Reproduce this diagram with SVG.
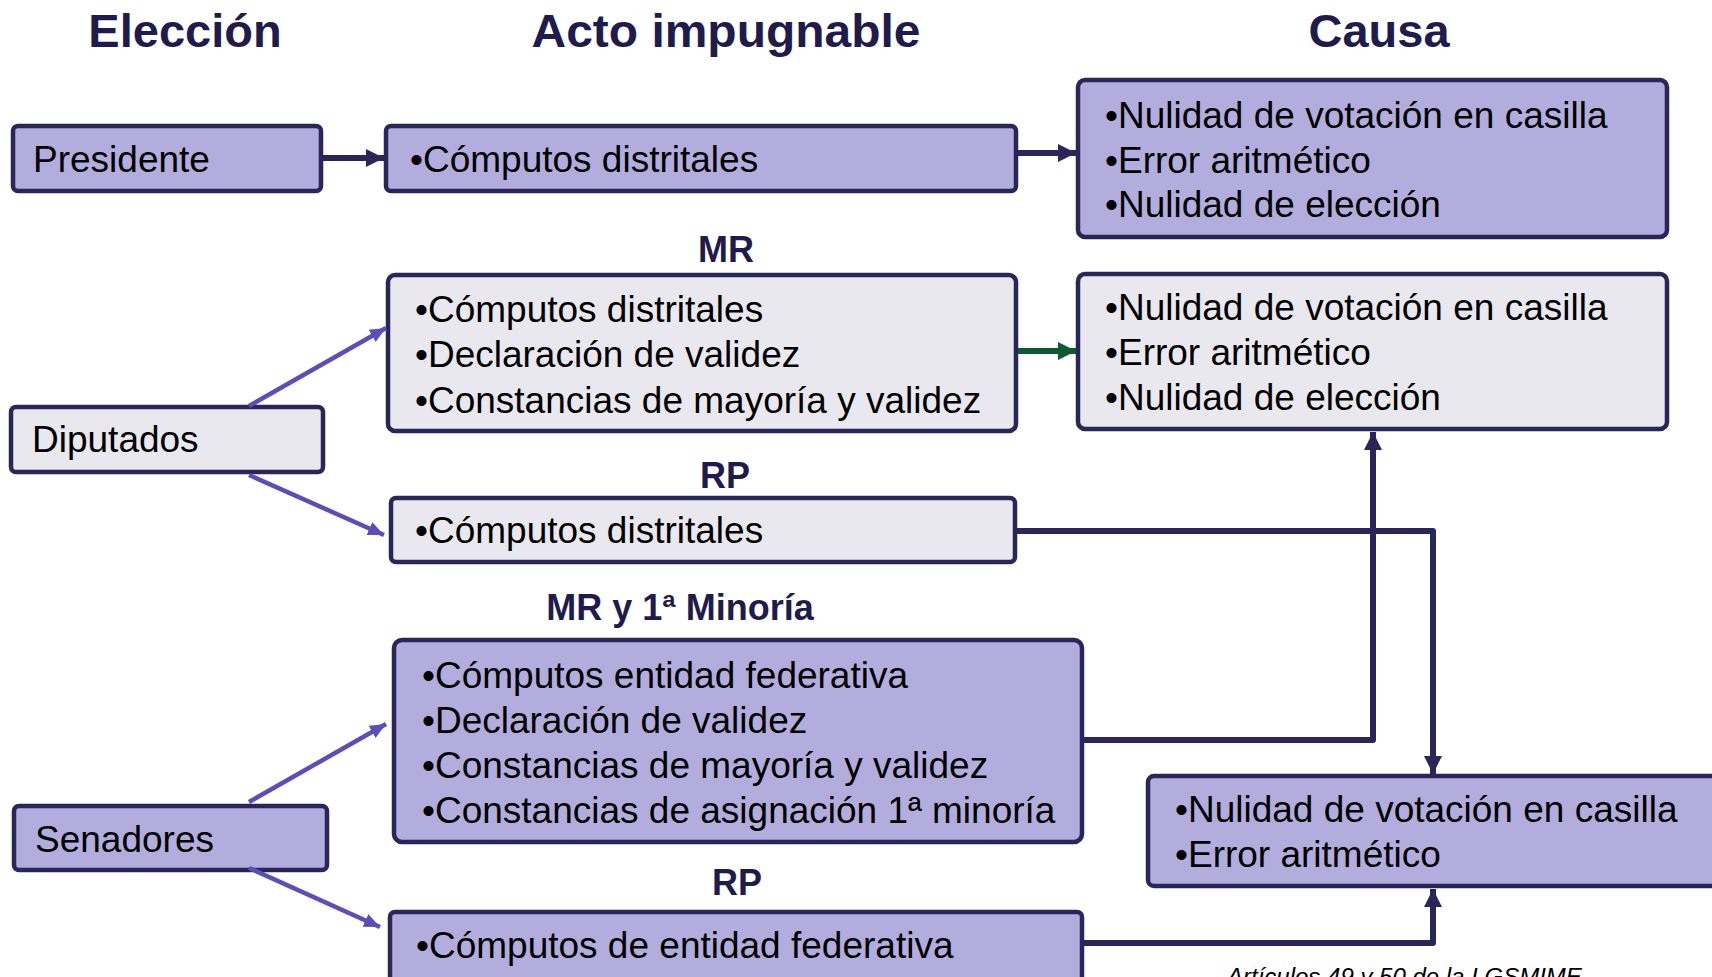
<svg xmlns="http://www.w3.org/2000/svg" width="1712" height="977" viewBox="0 0 1712 977">
<defs>
<style>
.title{font-family:"Liberation Sans",Arial,sans-serif;font-weight:bold;font-size:47px;fill:#1f1c4d;text-anchor:middle}
.lbl{font-family:"Liberation Sans",Arial,sans-serif;font-weight:bold;font-size:36px;fill:#1f1c4d;text-anchor:middle}
.t{font-family:"Liberation Sans",Arial,sans-serif;font-size:37px;fill:#000}
.foot{font-family:"Liberation Sans",Arial,sans-serif;font-style:italic;font-size:24px;fill:#000}
.lav{fill:#b2addc;stroke:#2b2659;stroke-width:4.5}
.gry{fill:#e9e8ee;stroke:#2b2659;stroke-width:4.5}
.nv{fill:none;stroke:#2b2659;stroke-width:6;stroke-linejoin:round}
.pu{fill:none;stroke:#5a4fb9;stroke-width:4.5}
.gr{fill:none;stroke:#0c5a32;stroke-width:6}
</style>
<marker id="an" markerUnits="userSpaceOnUse" markerWidth="18" markerHeight="18" refX="18" refY="9" orient="auto"><path d="M0,0 L18,9 L0,18 z" fill="#2b2659"/></marker>
<marker id="ag" markerUnits="userSpaceOnUse" markerWidth="18" markerHeight="18" refX="18" refY="9" orient="auto"><path d="M0,0 L18,9 L0,18 z" fill="#0c5a32"/></marker>
<marker id="ap" markerUnits="userSpaceOnUse" markerWidth="16" markerHeight="16" refX="16" refY="8" orient="auto"><path d="M0,1 L16,8 L0,15 z" fill="#5a4fb9"/></marker>
</defs>
<rect width="1712" height="977" fill="#fff"/>
<g id="titles">
<text class="title" x="185" y="47">Elección</text>
<text class="title" x="726" y="47" textLength="389" lengthAdjust="spacingAndGlyphs">Acto impugnable</text>
<text class="title" x="1379" y="47">Causa</text>
<text class="lbl" x="726" y="262">MR</text>
<text class="lbl" x="725" y="488">RP</text>
<text class="lbl" x="680" y="620">MR y 1ª Minoría</text>
<text class="lbl" x="737" y="895">RP</text>
</g>
<g id="presidente"><rect class="lav" x="13" y="126" width="308" height="65" rx="5"/><text class="t" x="33" y="172">Presidente</text></g>
<g id="acto-presidente"><rect class="lav" x="386" y="126" width="630" height="65" rx="5"/><text class="t" x="410" y="172">•Cómputos distritales</text></g>
<g id="causa-1"><rect class="lav" x="1078" y="80" width="589" height="157" rx="7"/>
<text class="t" x="1105" y="128">•Nulidad de votación en casilla</text>
<text class="t" x="1105" y="173">•Error aritmético</text>
<text class="t" x="1105" y="217">•Nulidad de elección</text></g>
<g id="causa-2"><rect class="gry" x="1078" y="274" width="589" height="155" rx="7"/>
<text class="t" x="1105" y="320">•Nulidad de votación en casilla</text>
<text class="t" x="1105" y="365">•Error aritmético</text>
<text class="t" x="1105" y="410">•Nulidad de elección</text></g>
<g id="acto-dip-mr"><rect class="gry" x="388" y="275" width="628" height="156" rx="7"/>
<text class="t" x="415" y="322">•Cómputos distritales</text>
<text class="t" x="415" y="367">•Declaración de validez</text>
<text class="t" x="415" y="413">•Constancias de mayoría y validez</text></g>
<g id="diputados"><rect class="gry" x="11" y="407" width="312" height="65" rx="5"/><text class="t" x="32" y="452">Diputados</text></g>
<g id="acto-dip-rp"><rect class="gry" x="391" y="498" width="624" height="64" rx="5"/><text class="t" x="415" y="543">•Cómputos distritales</text></g>
<g id="acto-sen-mr"><rect class="lav" x="394" y="640" width="688" height="202" rx="8"/>
<text class="t" x="422" y="688">•Cómputos entidad federativa</text>
<text class="t" x="422" y="733">•Declaración de validez</text>
<text class="t" x="422" y="778">•Constancias de mayoría y validez</text>
<text class="t" x="422" y="823">•Constancias de asignación 1ª minoría</text></g>
<g id="senadores"><rect class="lav" x="14" y="806" width="313" height="64" rx="5"/><text class="t" x="35" y="852">Senadores</text></g>
<g id="acto-sen-rp"><rect class="lav" x="390" y="912" width="692" height="80" rx="5"/><text class="t" x="416" y="958">•Cómputos de entidad federativa</text></g>
<g id="causa-3"><rect class="lav" x="1148" y="776" width="580" height="110" rx="6"/>
<text class="t" x="1175" y="822">•Nulidad de votación en casilla</text>
<text class="t" x="1175" y="867">•Error aritmético</text></g>
<g id="connectors">
<line class="nv" x1="323" y1="158" x2="384" y2="158" marker-end="url(#an)"/>
<line class="nv" x1="1018" y1="153" x2="1076" y2="153" marker-end="url(#an)"/>
<line class="gr" x1="1018" y1="351" x2="1076" y2="351" marker-end="url(#ag)"/>
<polyline class="nv" points="1084,740 1373,740 1373,432" marker-end="url(#an)"/>
<polyline class="nv" points="1017,531 1433,531 1433,774" marker-end="url(#an)"/>
<polyline class="nv" points="1084,943 1433,943 1433,889" marker-end="url(#an)"/>
<line class="pu" x1="249" y1="406" x2="386" y2="328" marker-end="url(#ap)"/>
<line class="pu" x1="249" y1="475" x2="384" y2="535" marker-end="url(#ap)"/>
<line class="pu" x1="249" y1="802" x2="386" y2="724" marker-end="url(#ap)"/>
<line class="pu" x1="249" y1="868" x2="380" y2="927" marker-end="url(#ap)"/>
</g>
<text class="foot" x="1227" y="985">Artículos 49 y 50 de la LGSMIME</text>
</svg>
